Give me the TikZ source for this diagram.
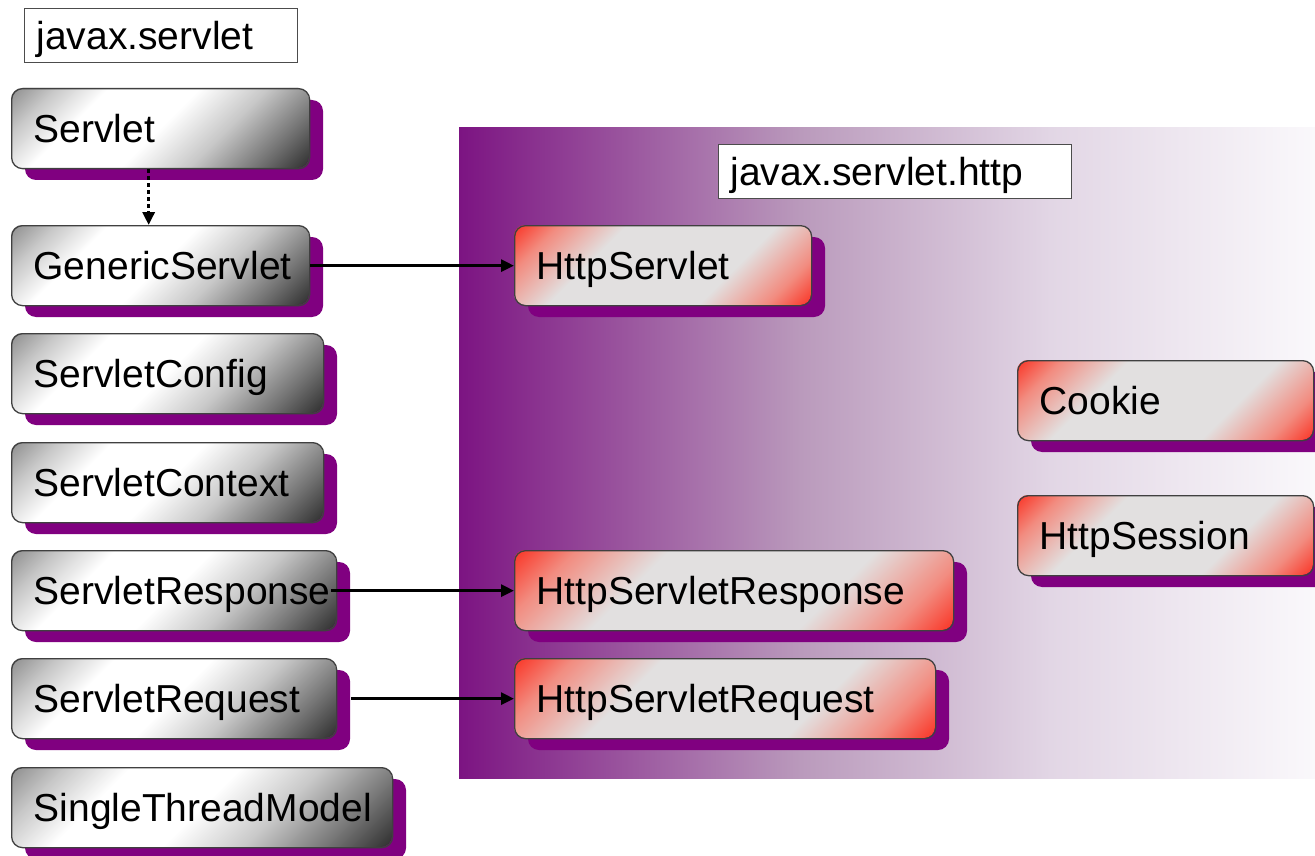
\documentclass[tikz,border=0pt]{standalone}
\usepackage{fontspec}
\setmainfont{Liberation Sans}
\usetikzlibrary{arrows.meta}
\definecolor{shadowpurple}{RGB}{128,0,128}
\definecolor{panA}{RGB}{124,20,130}
\definecolor{panB}{RGB}{186,154,188}
\definecolor{panC}{RGB}{226,214,229}
\definecolor{panD}{RGB}{250,248,251}
\definecolor{redend}{RGB}{250,50,35}
\definecolor{redmid}{RGB}{242,140,128}
\definecolor{midgray}{RGB}{226,224,224}
\definecolor{gdark}{RGB}{45,45,45}
\definecolor{gmid}{RGB}{115,115,115}
\definecolor{glight}{RGB}{200,200,200}
\definecolor{gcorner}{RGB}{140,140,140}
\pgfdeclareverticalshading{grayshade}{100bp}{color(0bp)=(gdark); color(25bp)=(gdark); color(32bp)=(gmid); color(41bp)=(glight); color(50bp)=(white); color(62bp)=(white); color(69bp)=(glight); color(75bp)=(gcorner); color(100bp)=(gcorner)}
\pgfdeclareverticalshading{redshade}{100bp}{color(0bp)=(redend); color(25bp)=(redend); color(31bp)=(redmid); color(40bp)=(midgray); color(60bp)=(midgray); color(69bp)=(redmid); color(75bp)=(redend); color(100bp)=(redend)}
\tikzset{
 cls/.style={draw=black!75, line width=1.3pt, rounded corners=11pt, inner xsep=22pt, inner ysep=0pt,
   minimum height=80pt, text height=36pt, text depth=8pt, anchor=north west,
   font=\fontsize{39}{44}\selectfont},
 shadowfill/.style={fill=shadowpurple, rounded corners=11pt},
 pkg/.style={draw=black!70, fill=white, line width=1pt, inner xsep=12pt, inner ysep=0pt,
   minimum height=54pt, text height=36pt, text depth=8pt, anchor=north west,
   font=\fontsize{39}{44}\selectfont},
 conn/.style={line width=3pt, -{Triangle[length=13pt,width=12pt]}},
 realize/.style={conn, line width=3.5pt, dash pattern=on 4pt off 3pt}
}
\newcommand{\wbox}[2]{\makebox[#1][l]{#2}}
% #1 name, #2 shading, #3 x, #4 y (top), #5 width, #6 text
\newcommand{\classbox}[6]{%
  \path[shadowfill] (#3+14,#4+12) rectangle ++(#5,80);
  \begin{scope}
    \clip[rounded corners=11pt] (#3,#4) rectangle ++(#5,80);
    \pgfmathsetmacro\halfs{(#5+80)/2/sqrt(2)}
    \pgfmathsetmacro\cx{#3+#5/2}
    \pgfmathsetmacro\cy{#4+40}
    \begin{scope}[transform canvas={rotate around={45:(\cx,\cy)}}]
      \shade[shading=#2] (\cx-\halfs,\cy-\halfs) rectangle (\cx+\halfs,\cy+\halfs);
    \end{scope}
  \end{scope}
  \pgfmathsetmacro\tw{#5-44}
  \node[cls] (#1) at (#3,#4) {\wbox{\tw pt}{#6}};
}
\begin{document}
\begin{tikzpicture}[x=1pt,y=-1pt]
\useasboundingbox (0,0) rectangle (1315,856);
\fill[white] (0,0) rectangle (1315,856);
% package panel
\fill[left color=panA, right color=panB] (459,128) rectangle (801,778);
\fill[left color=panB, right color=panC] (800,128) rectangle (1051,778);
\fill[left color=panC, right color=panD] (1050,128) rectangle (1315,778);
% package labels
\node[pkg] (pkgA) at (24,8) {\wbox{249pt}{javax.servlet}};
\node[pkg] (pkgB) at (718,144) {\wbox{329pt}{javax.servlet.http}};
% javax.servlet classes
\classbox{servlet}{grayshade}{11}{88}{298}{Servlet}
\classbox{generic}{grayshade}{11}{225}{298}{GenericServlet}
\classbox{config}{grayshade}{11}{333}{312}{ServletConfig}
\classbox{context}{grayshade}{11}{442}{312}{ServletContext}
\classbox{resp}{grayshade}{11}{550}{325}{ServletResponse}
\classbox{req}{grayshade}{11}{658}{325}{ServletRequest}
\classbox{single}{grayshade}{11}{767}{381}{SingleThreadModel}
% javax.servlet.http classes
\classbox{httpservlet}{redshade}{514}{225}{297}{HttpServlet}
\classbox{httpresp}{redshade}{514}{550}{439}{HttpServletResponse}
\classbox{httpreq}{redshade}{514}{658}{421}{HttpServletRequest}
\classbox{cookie}{redshade}{1017}{360}{296}{Cookie}
\classbox{session}{redshade}{1017}{495}{296}{HttpSession}
% connectors
\draw[realize] ([xshift=-12pt]servlet.south) -- ([xshift=-12pt]generic.north);
\draw[conn] (generic.east) -- (httpservlet.west);
\draw[conn, shorten <=-6pt] (resp.east) -- (httpresp.west);
\draw[conn, shorten <=14pt] (req.east) -- (httpreq.west);
\end{tikzpicture}
\end{document}
